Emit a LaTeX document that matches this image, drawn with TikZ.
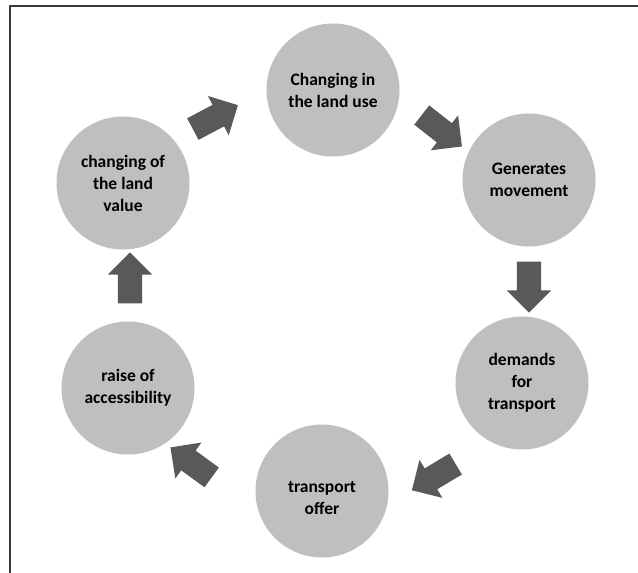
\documentclass[tikz,border=0pt]{standalone}
\usepackage{fontspec}
\setmainfont{Carlito}
\usetikzlibrary{shapes.arrows}
\definecolor{circfill}{HTML}{BFBFBF}
\definecolor{arrowfill}{HTML}{595959}
\definecolor{framecol}{HTML}{3A3A3A}
\begin{document}
\begin{tikzpicture}[x=1pt,y=-1pt,
  stagetext/.style={align=center, inner sep=0pt,
    font=\fontsize{17.5}{22}\selectfont\bfseries, text=black},
  stage/.style={stagetext, circle, fill=circfill, minimum size=133pt},
  blockarrow/.style={single arrow, fill=arrowfill, draw=none, minimum height=51pt,
    inner xsep=0pt, inner ysep=12pt, single arrow head extend=10pt,
    single arrow tip angle=90, single arrow head indent=0pt}]
\useasboundingbox (0,0) rectangle (638,573);
\fill[white] (0,0) rectangle (638,573);
\draw[framecol, line width=1.3pt] (10,573) -- (10,6) -- (638,6);

\node[stage] (c1) at (333,90) {Changing in\\the land use};
\node[stage] (c2) at (529,180) {Generates\\movement};
\node[stage] (c3) at (522,383) {demands\\for\\transport};
\node[stage] (c4) at (322,491) {};
\node[stagetext] (t4) at (322,498) {transport\\offer};
\node[stage] (c5) at (128,388) {raise of\\accessibility};
\node[stage] (c6) at (123,183) {changing of\\the land\\value};

\node[blockarrow, rotate=28] (a1) at (210,120) {};
\node[blockarrow, rotate=-38] (a2) at (437,127) {};
\node[blockarrow, rotate=-90] (a3) at (529,281) {};
\node[blockarrow, rotate=211] (a4) at (439,474) {};
\node[blockarrow, rotate=144] (a5) at (196,466) {};
\node[blockarrow, rotate=90] (a6) at (130,284) {};
\end{tikzpicture}
\end{document}
